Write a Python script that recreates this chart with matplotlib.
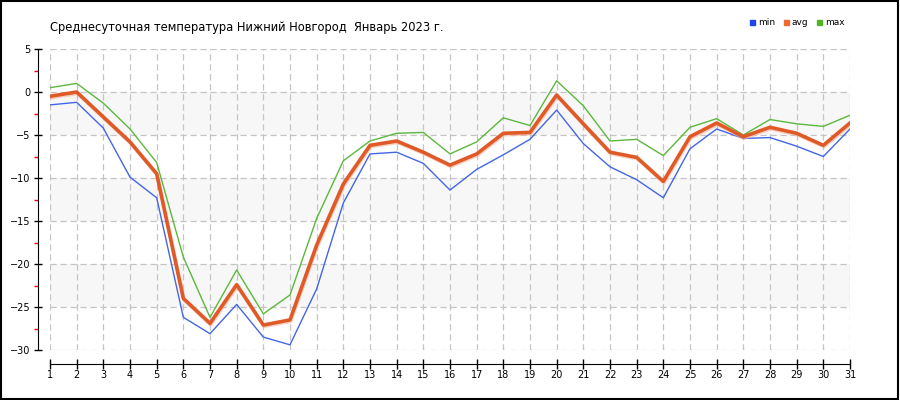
import numpy as np
import matplotlib
matplotlib.use('Agg')
from matplotlib import pyplot as plt
from matplotlib import patheffects as pe
from matplotlib.patches import Rectangle

days = list(range(1, 32))
t_min = [-1.5, -1.2, -4.2, -9.9, -12.3, -26.2, -28.1, -24.7, -28.5, -29.4,
         -22.9, -12.9, -7.2, -7.0, -8.3, -11.4, -9.0, -7.3, -5.5, -2.1,
         -6.0, -8.7, -10.2, -12.3, -6.6, -4.3, -5.4, -5.3, -6.3, -7.5, -4.3]
t_avg = [-0.5, 0.0, -2.9, -5.8, -9.5, -24.0, -26.9, -22.4, -27.1, -26.5,
         -17.8, -10.7, -6.2, -5.7, -7.0, -8.5, -7.2, -4.8, -4.7, -0.35,
         -3.7, -7.0, -7.6, -10.4, -5.2, -3.6, -5.2, -4.1, -4.8, -6.2, -3.6]
t_max = [0.5, 1.0, -1.3, -4.3, -8.2, -19.2, -26.2, -20.7, -25.8, -23.6,
         -14.7, -8.0, -5.7, -4.8, -4.7, -7.2, -5.8, -3.0, -3.9, 1.3,
         -1.6, -5.7, -5.5, -7.4, -4.1, -3.1, -5.0, -3.2, -3.7, -4.0, -2.7]
y_ticks = [5, 0, -5, -10, -15, -20, -25, -30]
title = 'Среднесуточная температура Нижний Новгород  Январь 2023 г.'

fig = plt.figure(figsize=(9, 4), dpi=100)
ax = fig.add_axes([50 / 900, 50 / 400, 800 / 900, 301 / 400])

# alternating shaded bands
for i in range(len(y_ticks) - 1):
    if i % 2 == 1:
        ax.axhspan(y_ticks[i + 1], y_ticks[i], color='#f7f7f7', zorder=0, lw=0)

ax.plot(days, t_min, color='#4466e6', lw=1.0, zorder=3)
ax.plot(days, t_max, color='#5cb83c', lw=1.0, zorder=3)
ax.plot(days, t_avg, color='#e05a28', lw=2.6, zorder=4,
        path_effects=[pe.SimpleLineShadow(offset=(0.5, -1.0), shadow_color='#f4b59a', alpha=0.6),
                      pe.Normal()])

ax.set_xlim(1, 31)
ax.set_ylim(-30, 5)
ax.set_xticks(days)
ax.set_yticks(y_ticks)
ax.set_yticks([2.5, -2.5, -7.5, -12.5, -17.5, -22.5, -27.5], minor=True)
ax.grid(True, which='major', color='#c4c4c4', ls=(0, (5, 3)), lw=0.9)
ax.set_axisbelow(True)

for s in ['top', 'right']:
    ax.spines[s].set_visible(False)
ax.spines['left'].set_position(('outward', 9))
ax.spines['bottom'].set_position(('outward', 10))
ax.tick_params(axis='y', which='major', direction='inout', length=6, width=1, labelsize=7, pad=2)
ax.tick_params(axis='y', which='minor', direction='out', length=3, width=1, color='red')
ax.tick_params(axis='x', which='major', direction='inout', length=7, width=1, labelsize=7, pad=1)

fig.text(50 / 900, 1 - 27 / 400, title, fontsize=8.3, va='center', ha='left')

# legend
lx = [750, 784, 817]
labels = ['min', 'avg', 'max']
colors = ['#2244ee', '#f06a30', '#50b424']
for x, lab, c in zip(lx, labels, colors):
    fig.patches.append(Rectangle((x / 900, 1 - 25 / 400), 5 / 900, 5 / 400,
                                 transform=fig.transFigure, color=c))
    fig.text((x + 8) / 900, 1 - 22.5 / 400, lab, fontsize=6.5, va='center', ha='left')

fig.patches.append(Rectangle((0.001, 0.002), 0.997, 0.996, transform=fig.transFigure,
                             fill=False, edgecolor='black', lw=1.5))

fig.savefig('out.png', dpi=100)
